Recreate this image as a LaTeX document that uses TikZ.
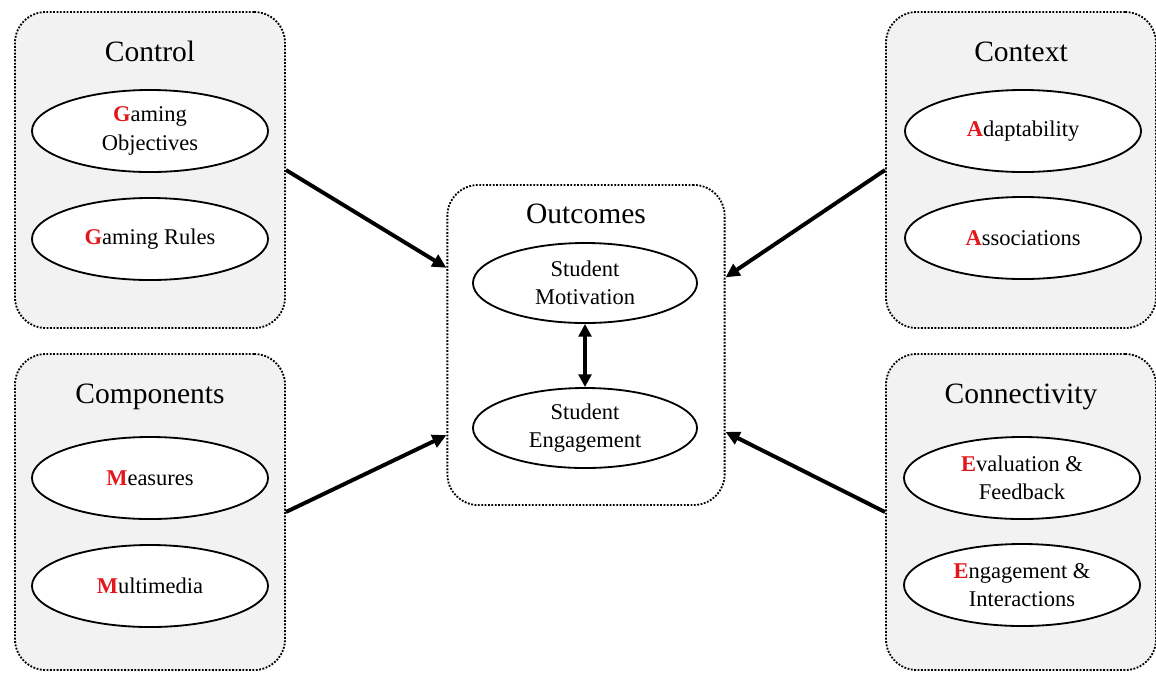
\documentclass[tikz,border=0pt]{standalone}
\usepackage{fontspec}
\setmainfont{Liberation Serif}
\usetikzlibrary{shapes.geometric,arrows.meta,positioning,calc}
\definecolor{panel}{HTML}{F2F2F2}
\definecolor{initial}{HTML}{E3171B}
\newcommand{\ini}[1]{\textcolor{initial}{\textbf{#1}}}

\tikzset{
	group/.style={draw,dash pattern=on 1.3pt off 1.1pt,line width=1.3pt,rounded corners=22pt,fill=panel,minimum width=6.75cm,minimum height=7.9cm},
	title/.style={anchor=base,font=\fontsize{21}{24}\selectfont},
	item/.style={draw,ellipse,line width=1.3pt,fill=white,minimum width=5.9cm,minimum height=2.05cm,align=center,inner sep=1pt,font=\fontsize{16}{20}\selectfont},
	link/.style={line width=2.8pt,-{Triangle[length=10pt,width=9.5pt]}}
}

\begin{document}
\begin{tikzpicture}[x=0.025cm,y=-0.025cm]
		\useasboundingbox (0,0) rectangle (1156,673);
		%
		%control
		\node[group] (ctrl) at (150,170) {};
		\node[title] (ctrlT) at (150,61) {Control};
		\node[item] (obj) at (150,131) {\ini{G}aming\\Objectives};
		\node[item] (rules) at (150,239) {\ini{G}aming Rules};
		%
		%components
		\node[group] (comp) at (150,512) {};
		\node[title] (compT) at (150,403) {Components};
		\node[item] (meas) at (150,478) {\ini{M}easures};
		\node[item] (media) at (150,586) {\ini{M}ultimedia};
		%
		%context
		\node[group] (ctx) at (1021,170) {};
		\node[title] (ctxT) at (1021,61) {Context};
		\node[item] (adapt) at (1023,131) {\ini{A}daptability};
		\node[item] (assoc) at (1023,238) {\ini{A}ssociations};
		%
		%connectivity
		\node[group] (conn) at (1021,512) {};
		\node[title] (connT) at (1021,403) {Connectivity};
		\node[item] (eval) at (1022,478) {\ini{E}valuation \&\\Feedback};
		\node[item] (inter) at (1022,585) {\ini{E}ngagement \&\\Interactions};
		%
		%outcomes
		\node[group,fill=white,minimum width=6.93cm,minimum height=8cm] (out) at (586,345) {};
		\node[title] (outT) at (586,223) {Outcomes};
		\node[item,minimum width=5.6cm,minimum height=2cm] (motiv) at (585,283) {Student\\Motivation};
		\node[item,minimum width=5.6cm,minimum height=2cm] (engage) at (585,428) {Student\\Engagement};
		\draw[line width=2.6pt,{Triangle[length=9pt,width=9pt]}-{Triangle[length=9pt,width=9pt]}] (motiv) -- (engage);
		%
		%links
		\draw[link] (ctrl.east) -- ($(out.north west)!0.26!(out.south west)$);
		\draw[link] (comp.east) -- ($(out.north west)!0.78!(out.south west)$);
		\draw[link] (ctx.west) -- ($(out.north east)!0.29!(out.south east)$);
		\draw[link] (conn.west) -- ($(out.north east)!0.77!(out.south east)$);
	\end{tikzpicture}
\end{document}
